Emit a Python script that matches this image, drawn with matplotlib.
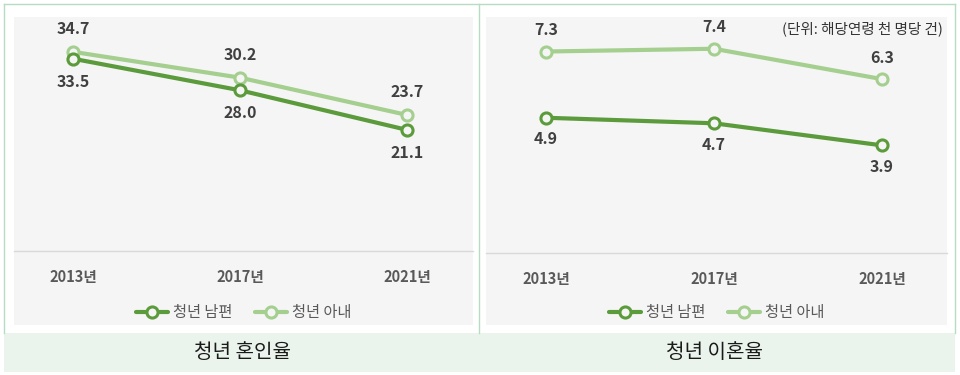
import matplotlib.pyplot as plt
from matplotlib.patches import Rectangle
from matplotlib.lines import Line2D

plt.rcParams['font.family'] = ['Noto Sans CJK KR', 'DejaVu Sans']

years = ['2013년', '2017년', '2021년']
marriage_husband = [33.5, 28.0, 21.1]
marriage_wife = [34.7, 30.2, 23.7]
divorce_husband = [4.9, 4.7, 3.9]
divorce_wife = [7.3, 7.4, 6.3]
series_names = ['청년 남편', '청년 아내']
panel_titles = ['청년 혼인율', '청년 이혼율']
unit_note = '(단위: 해당연령 천 명당 건)'

DARK = '#5b9b3c'
LIGHT = '#a4cf8f'
BG = '#f5f5f5'
TXT = '#404040'
TICK = '#595959'
FRAME = '#b7dcc2'
BAND = '#ebf4ec'

W, H = 960, 375
fig = plt.figure(figsize=(W / 100, H / 100), dpi=100)

# background layer in pixel coords
bg = fig.add_axes([0, 0, 1, 1], zorder=-10)
bg.set_xlim(0, W)
bg.set_ylim(H, 0)
bg.axis('off')
bg.add_patch(Rectangle((4, 333), 951, 39, facecolor=BAND, edgecolor='none'))
bg.plot([4, 955], [4, 4], color=FRAME, lw=1)
bg.plot([4, 4], [4, 333], color=FRAME, lw=1)
bg.plot([479, 479], [4, 333], color=FRAME, lw=1)
bg.plot([955, 955], [4, 333], color=FRAME, lw=1)
bg.text(242, 352, panel_titles[0], ha='center', va='center', fontsize=14.5, color='#1a1a1a')
bg.text(715, 352, panel_titles[1], ha='center', va='center', fontsize=14.5, color='#1a1a1a')


def px_axes(x0, x1, y0, y1):
    return fig.add_axes([x0 / W, (H - y1) / H, (x1 - x0) / W, (y1 - y0) / H])


def draw_panel(ax, husband, wife, xlim, ylim, off):
    ax.set_facecolor(BG)
    x = range(len(years))
    kw = dict(lw=3, marker='o', markersize=8, markeredgewidth=2.2,
              markerfacecolor=BG, solid_capstyle='round')
    ax.plot(x, wife, color=LIGHT, markeredgecolor=LIGHT, **kw)
    ax.plot(x, husband, color=DARK, markeredgecolor=DARK, **kw)
    for i in x:
        ax.annotate(f'{wife[i]:.1f}', (i, wife[i]), xytext=(0, off), textcoords='offset points',
                    ha='center', va='center', fontsize=11.5, fontweight='bold', color=TXT)
        ax.annotate(f'{husband[i]:.1f}', (i, husband[i]), xytext=(0, -off), textcoords='offset points',
                    ha='center', va='center', fontsize=11.5, fontweight='bold', color=TXT)
    ax.set_xlim(*xlim)
    ax.set_ylim(*ylim)
    for s in ['top', 'left', 'right']:
        ax.spines[s].set_visible(False)
    ax.spines['bottom'].set_position(('data', 0))
    ax.spines['bottom'].set_color('#d9d9d9')
    ax.spines['bottom'].set_linewidth(1)
    ax.set_yticks([])
    ax.set_xticks(list(x))
    ax.set_xticklabels(years, fontsize=10.5, fontweight='bold', color=TICK)
    ax.tick_params(axis='x', length=0, pad=13)
    handles = [Line2D([], [], color=c, markeredgecolor=c, **kw) for c in (DARK, LIGHT)]
    ax.legend(handles, series_names, loc='center', bbox_to_anchor=(0.5, 12 / 308), ncol=2,
              frameon=False, fontsize=11, labelcolor=TICK, handlelength=2.1,
              columnspacing=1.5, handletextpad=0.3)


ax1 = px_axes(14, 473, 17, 325)
draw_panel(ax1, marriage_husband, marriage_wife,
           (-0.353, 2.395), (-(325 - 251) / 5.74, (251 - 17) / 5.74), 16.5)

ax2 = px_axes(486, 947, 17, 325)
draw_panel(ax2, divorce_husband, divorce_wife,
           (-0.357, 2.387), (-(325 - 253) / 27.6, (253 - 17) / 27.6), 15.5)
ax2.text(0.99, (325 - 29) / 308, unit_note, transform=ax2.transAxes, ha='right', va='center',
         fontsize=10.5, color='#333333')

fig.savefig('out.png', dpi=100)
